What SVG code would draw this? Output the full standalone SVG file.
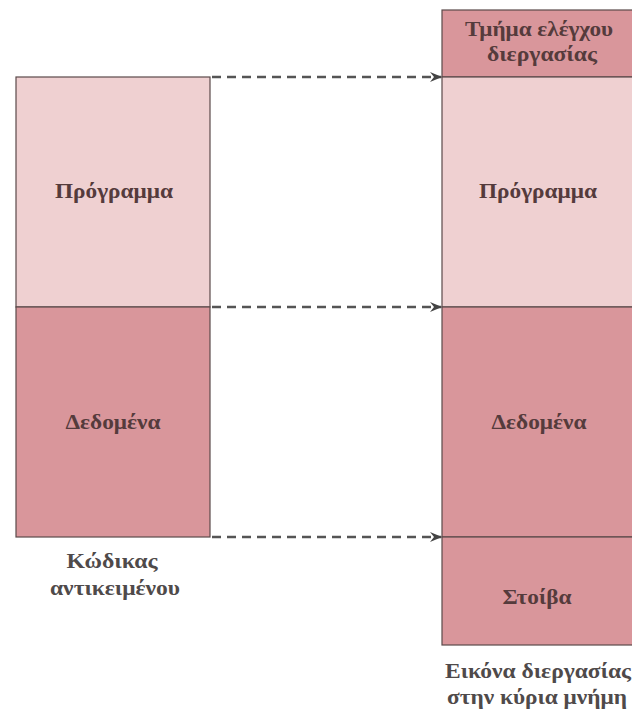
<svg xmlns="http://www.w3.org/2000/svg" width="632" height="715" viewBox="0 0 632 715">
  <style>
    .light { fill: #efd0d1; stroke: #5a4a4a; stroke-width: 1.2; }
    .dark { fill: #d9969b; stroke: #5a4a4a; stroke-width: 1.2; }
    .lbl { font-family: "Liberation Serif", "DejaVu Serif", serif; font-size: 21px; font-weight: bold; fill: #553b3c; text-anchor: middle; }
    .cap { font-family: "Liberation Serif", "DejaVu Serif", serif; font-size: 21px; font-weight: bold; fill: #4f4a4a; text-anchor: middle; }
    .conn { stroke: #555; stroke-width: 2.4; stroke-dasharray: 9 6; fill: none; }
  </style>
  <defs>
    <marker id="arrow" viewBox="0 0 12 10" refX="11" refY="5" markerWidth="12" markerHeight="10" markerUnits="userSpaceOnUse" orient="auto">
      <path d="M0,0 L12,5 L0,10 L4,5 Z" fill="#444"/>
    </marker>
  </defs>
  <rect width="632" height="715" fill="#ffffff"/>

  <!-- object code -->
  <g id="obj-program">
    <rect class="light" x="16" y="77" width="194" height="230"/>
    <text class="lbl" x="114" y="198" textLength="118" lengthAdjust="spacingAndGlyphs">Πρόγραμμα</text>
  </g>
  <g id="obj-data">
    <rect class="dark" x="16" y="307" width="194" height="230"/>
    <text class="lbl" x="113" y="429" textLength="95" lengthAdjust="spacingAndGlyphs">Δεδομένα</text>
  </g>
  <g id="obj-caption">
    <text class="cap" x="112" y="568" textLength="91" lengthAdjust="spacingAndGlyphs">Κώδικας</text>
    <text class="cap" x="115" y="595" textLength="130" lengthAdjust="spacingAndGlyphs">αντικειμένου</text>
  </g>

  <!-- process image -->
  <g id="img-control">
    <rect class="dark" x="442" y="10" width="192" height="67"/>
    <text class="lbl" x="539" y="36" textLength="148" lengthAdjust="spacingAndGlyphs">Τμήμα ελέγχου</text>
    <text class="lbl" x="542" y="61" textLength="110" lengthAdjust="spacingAndGlyphs">διεργασίας</text>
  </g>
  <g id="img-program">
    <rect class="light" x="442" y="77" width="192" height="230"/>
    <text class="lbl" x="538" y="198" textLength="118" lengthAdjust="spacingAndGlyphs">Πρόγραμμα</text>
  </g>
  <g id="img-data">
    <rect class="dark" x="442" y="307" width="192" height="230"/>
    <text class="lbl" x="539" y="429" textLength="95" lengthAdjust="spacingAndGlyphs">Δεδομένα</text>
  </g>
  <g id="img-stack">
    <rect class="dark" x="442" y="537" width="192" height="108"/>
    <text class="lbl" x="537" y="604" textLength="69" lengthAdjust="spacingAndGlyphs">Στοίβα</text>
  </g>
  <g id="img-caption">
    <text class="cap" x="538" y="678" textLength="186" lengthAdjust="spacingAndGlyphs">Εικόνα διεργασίας</text>
    <text class="cap" x="537" y="704" textLength="180" lengthAdjust="spacingAndGlyphs">στην κύρια μνήμη</text>
  </g>

  <!-- mapping connectors -->
  <g id="connectors">
    <line class="conn" x1="212" y1="77" x2="441" y2="77" marker-end="url(#arrow)"/>
    <line class="conn" x1="212" y1="307" x2="441" y2="307" marker-end="url(#arrow)"/>
    <line class="conn" x1="212" y1="537" x2="441" y2="537" marker-end="url(#arrow)"/>
  </g>
</svg>
